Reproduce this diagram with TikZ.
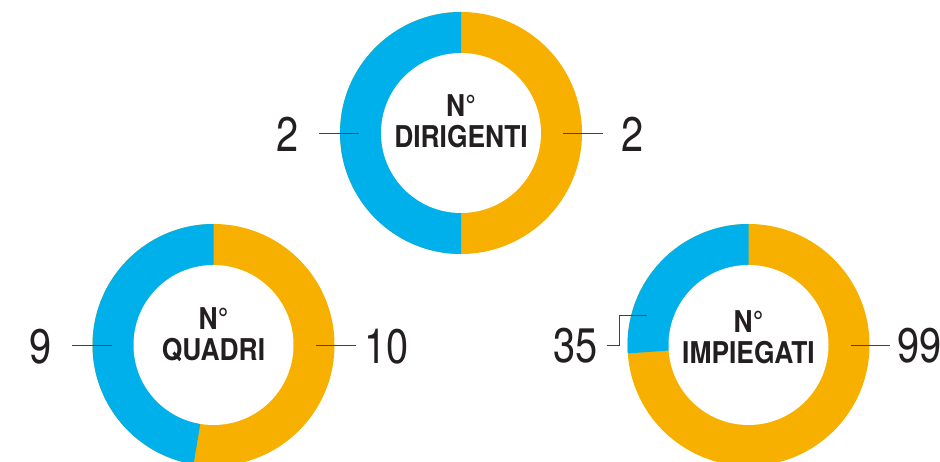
\documentclass[tikz,border=0pt]{standalone}
\usepackage{fontspec}
\newfontfamily\numfont{TeX Gyre Heros}[FakeStretch=0.82]
\newfontfamily\titfont{TeX Gyre Heros}[FakeStretch=0.88]
\definecolor{blu}{RGB}{0,176,234}
\definecolor{oro}{RGB}{248,176,0}
\definecolor{testo}{RGB}{35,31,32}

\begin{document}
\begin{tikzpicture}[x=1pt,y=1pt,
	num/.style={font=\numfont\fontsize{48.5}{48.5}\selectfont,text=testo,inner sep=0pt},
	titolo/.style={font=\titfont\bfseries\fontsize{30}{31.3}\selectfont,text=testo,align=center,inner sep=0pt},
	leader/.style={draw=testo!85,line width=0.8pt}]
\useasboundingbox (0,0) rectangle (940,462);
\clip (0,0) rectangle (940,462);
% dirigenti
\fill[oro] (461,329) circle (121);
\fill[blu] (461,329) -- +(90:121) arc[start angle=90,end angle=270,radius=121] -- cycle;
\fill[white] (461,329) circle (80);
\node[titolo] (dir) at (461,340.5) {N°\\DIRIGENTI};
\node[num] (dirSx) at (288,327.5) {2};
\node[num] (dirDx) at (633,327.5) {2};
\coordinate (dirSxA) at (319,328.7); \coordinate (dirSxB) at (359,328.7);
\coordinate (dirDxA) at (563,328.7); \coordinate (dirDxB) at (603,328.7);
\draw[leader] (dirSxA) -- (dirSxB);
\draw[leader] (dirDxA) -- (dirDxB);
% quadri
\fill[oro] (213.5,117) circle (121);
\fill[blu] (213.5,117) -- +(90:121) arc[start angle=90,end angle=260.5,radius=121] -- cycle;
\fill[white] (213.5,117) circle (80);
\node[titolo] (qua) at (213.5,127) {N°\\QUADRI};
\node[num] (quaSx) at (41,115) {9};
\node[num] (quaDx) at (386.5,115) {10};
\coordinate (quaSxA) at (71.7,116.3); \coordinate (quaSxB) at (111.7,116.3);
\coordinate (quaDxA) at (315.7,116.3); \coordinate (quaDxB) at (355.7,116.3);
\draw[leader] (quaSxA) -- (quaSxB);
\draw[leader] (quaDxA) -- (quaDxB);
% impiegati
\fill[oro] (748.5,117) circle (121);
\fill[blu] (748.5,117) -- +(90:121) arc[start angle=90,end angle=184,radius=121] -- cycle;
\fill[white] (748.5,117) circle (80);
\node[titolo] (imp) at (748.5,125) {N°\\IMPIEGATI};
\node[num] (impSx) at (575.5,116.5) {35};
\node[num] (impDx) at (919.5,116) {99};
\coordinate (impSxA) at (606.7,116.7); \coordinate (impSxB) at (646.7,147);
\coordinate (impDxA) at (850.7,117); \coordinate (impDxB) at (890,117);
\draw[leader] (impSxA) -- (619.3,116.7) |- (impSxB);
\draw[leader] (impDxA) -- (impDxB);
\end{tikzpicture}
\end{document}
